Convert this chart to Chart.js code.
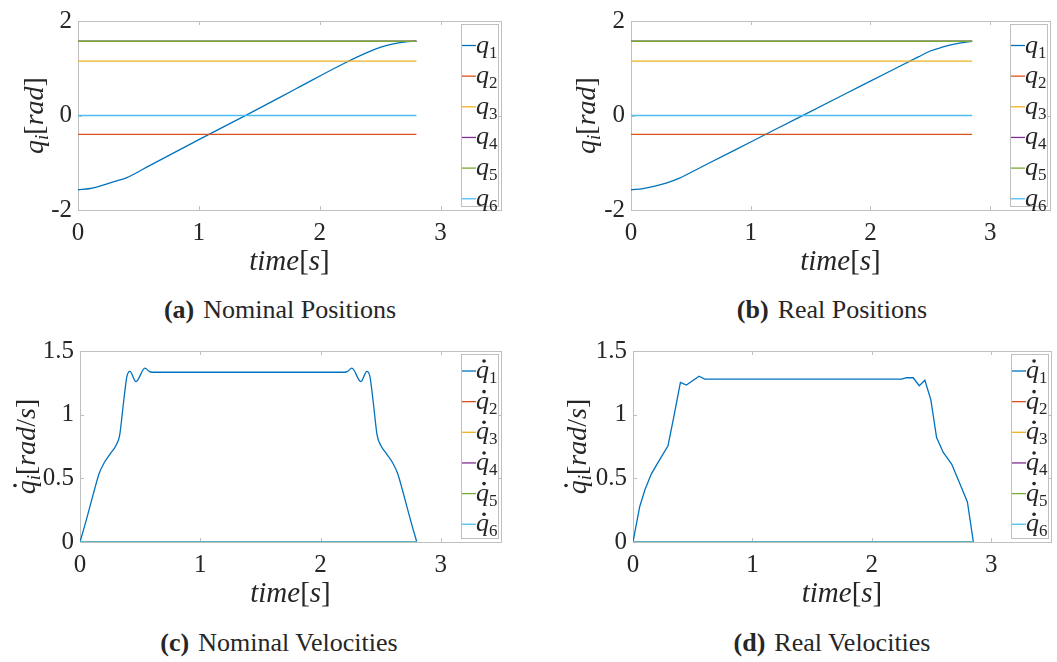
<!DOCTYPE html>
<html>
<head>
<meta charset="utf-8">
<script src="https://cdn.jsdelivr.net/npm/chart.js"></script>
<style>
  body { margin:0; background:#fff; width:1057px; height:662px; position:relative; overflow:hidden; font-family:"Liberation Serif", "Times New Roman", Times, serif; color:#262626; }
  .panel { position:absolute; }
  .cap { position:absolute; font-size:26px; white-space:nowrap; transform:translateX(-50%); line-height:28px; }
  .cap b { margin-right:9px; }
</style>
</head>
<body>
<div class="panel" style="left:0;top:0"><canvas id="chartA" width="520" height="285"></canvas></div>
<div class="panel" style="left:530px;top:0"><canvas id="chartB" width="527" height="285"></canvas></div>
<div class="panel" style="left:0;top:330px"><canvas id="chartC" width="520" height="290"></canvas></div>
<div class="panel" style="left:530px;top:330px"><canvas id="chartD" width="527" height="290"></canvas></div>
<div class="cap" style="left:280px;top:296px"><b>(a)</b>Nominal Positions</div>
<div class="cap" style="left:832px;top:296px"><b>(b)</b>Real Positions</div>
<div class="cap" style="left:279px;top:629px"><b>(c)</b>Nominal Velocities</div>
<div class="cap" style="left:832px;top:629px"><b>(d)</b>Real Velocities</div>
<script>
// matlab colours
var colors = ['#0072BD', '#D95319', '#EDB120', '#7E2F8E', '#77AC30', '#4DBEEE'];
var jointNames = ['q1', 'q2', 'q3', 'q4', 'q5', 'q6'];
var xTicks = [0, 1, 2, 3];
var posTicks = [-2, 0, 2];
var velTicks = [0, 0.5, 1, 1.5];

// (a) nominal positions
var tNomPos = [0, 0.1, 0.2, 0.3, 0.4, 0.6, 1.0, 1.4, 1.8, 2.2, 2.4, 2.5, 2.6, 2.7, 2.8];
var q1NomPos = [-1.571, -1.545, -1.48, -1.40, -1.32, -1.05, -0.51, 0.02, 0.56, 1.10, 1.34, 1.44, 1.51, 1.555, 1.571];
var qRestNomPos = [-0.40, 1.15, 1.571, 1.571, 0.0];   // q2..q6
var tEndNom = 2.8;

// (b) real positions
var tRealPos = [0, 0.1, 0.2, 0.3, 0.4, 0.6, 1.0, 1.4, 1.8, 2.2, 2.4, 2.5, 2.6, 2.7, 2.8, 2.85];
var q1RealPos = [-1.571, -1.548, -1.495, -1.425, -1.33, -1.075, -0.56, -0.045, 0.47, 0.985, 1.24, 1.365, 1.445, 1.51, 1.555, 1.571];
var qRestRealPos = [-0.40, 1.15, 1.571, 1.571, 0.0];
var tEndReal = 2.85;

// (c) nominal velocities
var tNomVel = [0, 0.04, 0.08, 0.12, 0.16, 0.2, 0.25, 0.3, 0.33, 0.36, 0.39, 0.415, 0.465, 0.54, 0.575, 0.6,
               2.2, 2.225, 2.26, 2.335, 2.385, 2.41, 2.44, 2.47, 2.5, 2.55, 2.6, 2.64, 2.68, 2.72, 2.76, 2.8];
var dq1NomVel = [0, 0.13, 0.27, 0.41, 0.54, 0.62, 0.69, 0.76, 0.84, 1.08, 1.30, 1.34, 1.26, 1.365, 1.34, 1.333,
                 1.333, 1.34, 1.365, 1.26, 1.34, 1.30, 1.08, 0.84, 0.76, 0.69, 0.62, 0.54, 0.41, 0.27, 0.13, 0];
var dqRestNomVel = [0, 0, 0, 0, 0];

// (d) real velocities
var tRealVel = [0, 0.056, 0.1, 0.154, 0.21, 0.293, 0.34, 0.397, 0.447, 0.553, 0.6, 2.25, 2.29, 2.346, 2.397,
                2.444, 2.494, 2.542, 2.598, 2.668, 2.737, 2.8, 2.85];
var dq1RealVel = [0, 0.277, 0.41, 0.535, 0.625, 0.755, 0.975, 1.253, 1.233, 1.302, 1.279, 1.279, 1.29, 1.29, 1.227,
                  1.27, 1.116, 0.82, 0.703, 0.612, 0.457, 0.315, 0];
var dqRestRealVel = [0, 0, 0, 0, 0];

var INK = '#262626';
var FRAME = '#bfbfbf';
var SERIF = '"Liberation Serif", "Times New Roman", Times, serif';

function pts(ts, vs) {
  return ts.map(function(t, k){ return {x: t, y: vs[k]}; });
}

function buildSets(t1, v1, rest, tEnd, smooth) {
  var sets = [{data: pts(t1, v1)}];
  rest.forEach(function(v){ sets.push({data: [{x: 0, y: v}, {x: tEnd, y: v}]}); });
  return sets.map(function(s, i){
    s.label = jointNames[i];
    s.borderColor = colors[i];
    s.backgroundColor = colors[i];
    s.borderWidth = 1.3;
    s.pointRadius = 0;
    s.fill = false;
    s.tension = 0;
    s.cubicInterpolationMode = (smooth && i === 0) ? 'monotone' : 'default';
    s.order = 5 - i;   // later joints on top, like matlab
    return s;
  });
}

// draw a row of text pieces centred on (cx, baseline cy)
function drawPieces(ctx, pieces, cx, cy, rot) {
  ctx.save();
  ctx.translate(cx, cy);
  ctx.rotate(rot || 0);
  ctx.textBaseline = 'alphabetic';
  ctx.textAlign = 'left';
  ctx.fillStyle = INK;
  var total = 0;
  pieces.forEach(function(p){ ctx.font = p.font; p.w = ctx.measureText(p.t).width; total += p.w; });
  var x = -total / 2;
  pieces.forEach(function(p){
    ctx.font = p.font;
    ctx.fillText(p.t, x, p.dy || 0);
    if (p.dot) {
      ctx.beginPath();
      ctx.arc(x + p.w * 0.62, -p.dot, 1.8, 0, Math.PI * 2);
      ctx.fill();
    }
    x += p.w;
  });
  ctx.restore();
}

function it(t, size, dy) { return {t: t, font: 'italic ' + size + 'px ' + SERIF, dy: dy || 0}; }
function rm(t, size, dy) { return {t: t, font: size + 'px ' + SERIF, dy: dy || 0}; }

// box round the axes + inward tick marks
var framePlugin = {
  id: 'frame',
  beforeDatasetsDraw: function(chart) {
    var a = chart.chartArea, ctx = chart.ctx, xs = chart.scales.x, ys = chart.scales.y;
    ctx.save();
    ctx.strokeStyle = FRAME;
    ctx.lineWidth = 1;
    ctx.strokeRect(Math.round(a.left) + 0.5, Math.round(a.top) + 0.5, Math.round(a.right - a.left), Math.round(a.bottom - a.top));
    ctx.beginPath();
    xs.ticks.forEach(function(t){
      var x = Math.round(xs.getPixelForValue(t.value)) + 0.5;
      ctx.moveTo(x, a.top); ctx.lineTo(x, a.top + 4);
      ctx.moveTo(x, a.bottom); ctx.lineTo(x, a.bottom - 4);
    });
    ys.ticks.forEach(function(t){
      var y = Math.round(ys.getPixelForValue(t.value)) + 0.5;
      ctx.moveTo(a.left, y); ctx.lineTo(a.left + 4, y);
      ctx.moveTo(a.right, y); ctx.lineTo(a.right - 4, y);
    });
    ctx.stroke();
    ctx.restore();
  }
};

// legend inside the axes + math axis titles
var mathPlugin = {
  id: 'mathText',
  afterDatasetsDraw: function(chart, args, opts) {
    var a = chart.chartArea, ctx = chart.ctx;
    var w = 37, x0 = Math.round(a.right) - 3 - w, y0 = Math.round(a.top) + 3, h = Math.round(a.bottom - a.top) - 7;
    ctx.save();
    ctx.fillStyle = '#fff';
    ctx.fillRect(x0, y0, w, h);
    ctx.strokeStyle = FRAME;
    ctx.lineWidth = 1;
    ctx.strokeRect(x0 + 0.5, y0 + 0.5, w, h);
    chart.data.datasets.forEach(function(ds, i){
      var y = y0 + (opts.dot ? 17 : 21.5) + i * 30.65;
      ctx.strokeStyle = ds.borderColor;
      ctx.lineWidth = 1.3;
      ctx.beginPath();
      ctx.moveTo(x0 + 1, y); ctx.lineTo(x0 + 15, y);
      ctx.stroke();
      var p = it(ds.label.charAt(0), 26, 0);
      if (opts.dot) p.dot = 17;
      var sub = rm(ds.label.slice(1), 17, 5);
      ctx.save();
      ctx.font = p.font; var w1 = ctx.measureText(p.t).width;
      ctx.font = sub.font; var w2 = ctx.measureText(sub.t).width;
      ctx.restore();
      drawPieces(ctx, [p, sub], x0 + 15 + (w1 + w2) / 2, y + 7, 0);
    });
    ctx.restore();

    // x title
    drawPieces(ctx, [it('time', 29), rm('[', 29), it('s', 29), rm(']', 29)],
      (a.left + a.right) / 2, a.bottom + 60, 0);
    // y title
    var q = it('q', 28);
    if (opts.dot) q.dot = 20;
    var yt = [q, it('i', 19, 5), rm('[', 28), it('rad', 28)];
    if (opts.dot) { yt.push(rm('/', 28)); yt.push(it('s', 28)); }
    yt.push(rm(']', 28));
    drawPieces(ctx, yt, opts.yTitleX + 6, (a.top + a.bottom) / 2, -Math.PI / 2);
  }
};

function makeChart(id, area, sets, yMin, yMax, yTicks, yTitleX, dot) {
  var canvas = document.getElementById(id);
  var W = canvas.width, H = canvas.height;
  return new Chart(canvas.getContext('2d'), {
    type: 'line',
    data: { datasets: sets },
    options: {
      responsive: false,
      animation: false,
      events: [],
      layout: { padding: { left: 0, top: area.t, right: W - area.r, bottom: 0 } },
      plugins: {
        legend: { display: false },
        tooltip: { enabled: false },
        mathText: { yTitleX: yTitleX, dot: dot }
      },
      scales: {
        x: {
          type: 'linear', min: 0, max: 3.5,
          afterBuildTicks: function(s){ s.ticks = xTicks.map(function(v){ return {value: v}; }); },
          afterFit: function(s){ s.height = H - area.b; },
          grid: { display: false, drawTicks: false },
          border: { display: false },
          ticks: { color: INK, font: { family: SERIF, size: 25 }, padding: 8, maxRotation: 0, autoSkip: false,
                   callback: function(v){ return String(v); } }
        },
        y: {
          type: 'linear', min: yMin, max: yMax,
          afterBuildTicks: function(s){ s.ticks = yTicks.map(function(v){ return {value: v}; }); },
          afterFit: function(s){ s.width = area.l; },
          grid: { display: false, drawTicks: false },
          border: { display: false },
          ticks: { color: INK, font: { family: SERIF, size: 25 }, padding: 6, autoSkip: false,
                   callback: function(v){ return String(v); } }
        }
      }
    },
    plugins: [framePlugin, mathPlugin]
  });
}

makeChart('chartA', {l: 78, r: 501, t: 16, b: 210}, buildSets(tNomPos, q1NomPos, qRestNomPos, tEndNom, true), -2, 2, posTicks, 37, false);
makeChart('chartB', {l: 101, r: 520, t: 16, b: 210}, buildSets(tRealPos, q1RealPos, qRestRealPos, tEndReal, true), -2, 2, posTicks, 59, false);
makeChart('chartC', {l: 80, r: 501, t: 19, b: 212}, buildSets(tNomVel, dq1NomVel, dqRestNomVel, tEndNom, true), 0, 1.5, velTicks, 29, true);
makeChart('chartD', {l: 103, r: 521, t: 19, b: 212}, buildSets(tRealVel, dq1RealVel, dqRestRealVel, tEndReal, false), 0, 1.5, velTicks, 50, true);
</script>
</body>
</html>
